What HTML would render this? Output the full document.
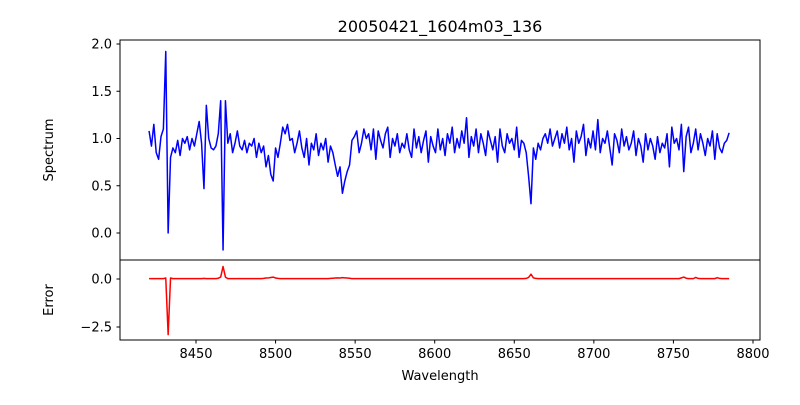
<!DOCTYPE html>
<html><head><meta charset="utf-8"><style>
body{margin:0;background:#fff;}
svg{font-family:"DejaVu Sans","Liberation Sans",sans-serif;}
</style></head><body>
<svg id="chart" width="800" height="400" xmlns="http://www.w3.org/2000/svg">
<rect x="0" y="0" width="800" height="400" fill="#fff"/>
<text x="440" y="32" font-size="16" text-anchor="middle">20050421_1604m03_136</text>
<text transform="translate(53,150) rotate(-90)" font-size="13" text-anchor="middle">Spectrum</text>
<text transform="translate(53,300) rotate(-90)" font-size="13" text-anchor="middle">Error</text>
<text x="440" y="380" font-size="13" text-anchor="middle">Wavelength</text>
<rect x="120" y="40" width="640" height="220" fill="none" stroke="#000" stroke-width="1"/>
<rect x="120" y="260" width="640" height="80" fill="none" stroke="#000" stroke-width="1"/>
</svg>
<script>
const wlStart = 8420.5, wlStep = 1.5;
const flux = [1.08,0.92,1.15,0.85,0.78,1.02,1.1,1.92,0.0,0.8,
0.9,0.85,0.98,0.82,1.0,0.95,1.02,0.88,1.0,0.92,
1.05,1.18,0.95,0.47,1.35,1.0,0.9,0.88,0.92,1.05,
1.4,-0.18,1.4,0.95,1.05,0.85,0.95,1.08,0.92,0.88,
0.98,0.85,0.95,0.92,1.0,0.8,0.95,0.85,0.92,0.7,
0.82,0.62,0.55,0.9,0.8,0.95,1.12,1.05,1.15,0.98,
1.0,0.85,0.95,1.08,0.9,0.8,1.0,0.72,0.95,0.88,
1.05,0.82,0.95,0.88,1.0,0.75,0.92,0.85,0.72,0.6,
0.7,0.42,0.55,0.65,0.72,0.98,1.02,1.08,0.85,0.95,
1.1,1.0,1.05,0.88,1.1,0.78,1.08,0.98,0.9,1.05,
1.12,0.8,1.0,0.92,1.05,0.85,0.95,0.9,1.05,0.88,
0.8,1.1,0.9,1.02,0.85,0.98,1.08,0.75,1.02,0.92,
0.85,1.1,0.88,1.0,0.82,1.05,0.95,1.12,0.85,1.0,
0.9,1.08,0.95,1.22,0.8,1.02,0.92,1.1,0.85,1.05,
0.95,0.82,1.08,0.98,0.88,1.02,0.75,1.1,0.92,0.85,
1.05,0.95,1.0,0.88,1.12,0.8,0.98,0.95,0.85,0.6,
0.31,0.9,0.78,0.95,0.88,1.0,1.05,0.95,1.1,0.92,
1.0,1.08,0.9,1.05,0.95,1.12,0.88,1.0,0.75,1.08,
0.95,1.02,1.15,0.82,1.0,0.9,1.08,0.88,1.2,0.85,
1.0,0.95,1.08,0.9,0.72,1.05,0.98,0.85,1.1,0.92,
1.02,0.88,0.95,1.08,0.82,1.0,0.92,0.75,1.05,0.88,
1.0,0.92,0.78,1.02,0.85,0.95,0.9,1.05,0.7,1.12,
0.95,1.0,0.88,1.15,0.65,1.02,1.12,0.85,0.95,1.1,
0.88,1.05,0.95,0.82,1.0,0.92,1.08,0.78,1.05,0.9,
0.85,0.95,0.98,1.06];
const err = [0.02,0.02,0.02,0.02,0.02,0.02,0.02,0.05,-2.9,0.05,
0.02,0.02,0.02,0.02,0.02,0.02,0.02,0.02,0.02,0.02,
0.02,0.02,0.02,0.03,0.02,0.02,0.02,0.02,0.02,0.04,
0.1,0.65,0.1,0.02,0.02,0.02,0.02,0.02,0.02,0.02,
0.02,0.02,0.02,0.02,0.02,0.02,0.02,0.02,0.03,0.05,
0.06,0.08,0.1,0.05,0.03,0.02,0.02,0.02,0.02,0.02,
0.02,0.02,0.02,0.02,0.02,0.02,0.02,0.02,0.02,0.02,
0.02,0.02,0.02,0.02,0.02,0.02,0.03,0.04,0.05,0.06,
0.05,0.07,0.06,0.05,0.04,0.02,0.02,0.02,0.02,0.02,
0.02,0.02,0.02,0.02,0.02,0.02,0.02,0.02,0.02,0.02,
0.02,0.02,0.02,0.02,0.02,0.02,0.02,0.02,0.02,0.02,
0.02,0.02,0.02,0.02,0.02,0.02,0.02,0.02,0.02,0.02,
0.02,0.02,0.02,0.02,0.02,0.02,0.02,0.02,0.02,0.02,
0.02,0.02,0.02,0.02,0.02,0.02,0.02,0.02,0.02,0.02,
0.02,0.02,0.02,0.02,0.02,0.02,0.02,0.02,0.02,0.02,
0.02,0.02,0.02,0.02,0.02,0.02,0.02,0.02,0.03,0.08,
0.25,0.06,0.03,0.02,0.02,0.02,0.02,0.02,0.02,0.02,
0.02,0.02,0.02,0.02,0.02,0.02,0.02,0.02,0.02,0.02,
0.02,0.02,0.02,0.02,0.02,0.02,0.02,0.02,0.02,0.02,
0.02,0.02,0.02,0.02,0.02,0.02,0.02,0.02,0.02,0.02,
0.02,0.02,0.02,0.02,0.02,0.02,0.02,0.02,0.02,0.02,
0.02,0.02,0.02,0.02,0.02,0.02,0.02,0.02,0.02,0.02,
0.02,0.02,0.02,0.06,0.1,0.04,0.02,0.02,0.02,0.08,
0.03,0.02,0.02,0.02,0.02,0.02,0.02,0.02,0.07,0.03,
0.02,0.02,0.02,0.02];
const xTicks = [8450,8500,8550,8600,8650,8700,8750,8800];
const topTicks = [0.0,0.5,1.0,1.5,2.0];
const botTicks = [0.0,-2.5];

const NS = "http://www.w3.org/2000/svg";
const xS = w => 196 + (w - 8450) * 1.5914;
const yTop = v => 233 - v * 94.5;
const yBot = v => 279 - v * 19.2;
const svg = document.getElementById('chart');
function mk(tag, attrs){const e=document.createElementNS(NS,tag);for(const k in attrs)e.setAttribute(k,attrs[k]);svg.appendChild(e);return e;}

let d1='', d2='';
flux.forEach((v,i)=>{const x=xS(wlStart+i*wlStep);d1+=(i?'L':'M')+x.toFixed(2)+','+yTop(v).toFixed(2);});
err.forEach((v,i)=>{const x=xS(wlStart+i*wlStep);d2+=(i?'L':'M')+x.toFixed(2)+','+yBot(v).toFixed(2);});
const p1 = mk('path',{d:d1,fill:'none',stroke:'#0000ff','stroke-width':1.5,'stroke-linejoin':'round'});


const p2 = mk('path',{d:d2,fill:'none',stroke:'#ff0000','stroke-width':1.5,'stroke-linejoin':'round'});



xTicks.forEach(t=>{
  const x=xS(t);
  const l=mk('line',{x1:x,x2:x,y1:340,y2:343.5,stroke:'#000'});
  
  
  const tx=mk('text',{x:x,y:358,'font-size':13,'text-anchor':'middle'});
  tx.textContent=t;
  
  
});
topTicks.forEach(t=>{
  const y=yTop(t);
  const l=mk('line',{x1:116.5,x2:120,y1:y,y2:y,stroke:'#000'});
  
  
  const tx=mk('text',{x:112,y:y+4.5,'font-size':13,'text-anchor':'end'});
  tx.textContent=t.toFixed(1);
  
  
});
botTicks.forEach(t=>{
  const y=yBot(t);
  const l=mk('line',{x1:116.5,x2:120,y1:y,y2:y,stroke:'#000'});
  
  
  const tx=mk('text',{x:112,y:y+4.5,'font-size':13,'text-anchor':'end'});
  tx.textContent=t.toFixed(1).replace('-','\u2212');
  
  
});
</script>
</body></html>
